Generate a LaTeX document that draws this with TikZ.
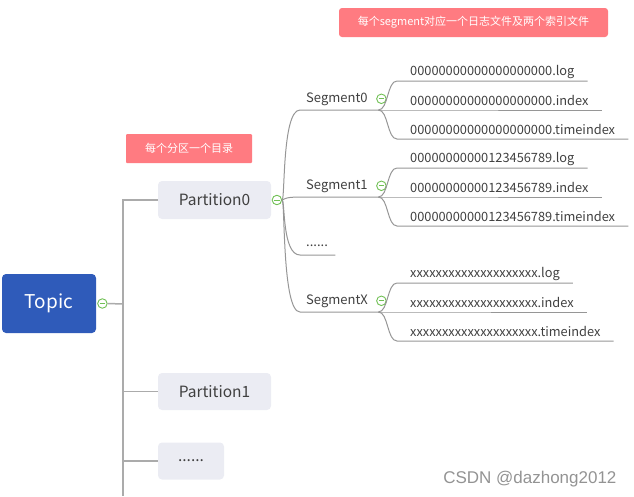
\documentclass[tikz,border=0pt]{standalone}
\usepackage{fontspec}
\setmainfont{Noto Sans CJK SC}
\newfontfamily\markfont{Liberation Sans}
\usepackage{tikz}
\usetikzlibrary{positioning}
\definecolor{topicblue}{RGB}{47,91,186}
\definecolor{partgray}{RGB}{235,236,243}
\definecolor{notered}{RGB}{255,123,129}
\definecolor{linegray}{RGB}{150,150,150}
\definecolor{textgray}{RGB}{64,64,64}
\definecolor{togglegreen}{RGB}{112,192,84}
\tikzstyle{partition} = [rectangle, rounded corners=4pt, fill=partgray, text=textgray, minimum width=113pt, minimum height=38pt, font=\fontsize{15.5}{18}\selectfont]
\tikzstyle{note} = [rectangle, rounded corners=3pt, fill=notered, text=white, minimum height=29pt, font=\fontsize{11}{13}\selectfont]
\tikzstyle{toggle} = [circle, draw=togglegreen, fill=white, line width=0.9pt, minimum size=9.5pt, inner sep=0pt, path picture={\draw[togglegreen, line width=1pt] ([xshift=-2.8pt]path picture bounding box.center) -- ([xshift=2.8pt]path picture bounding box.center);}]

\begin{document}
\begin{tikzpicture}[x=1pt, y=-1pt]
        \tikzstyle{stem} = [draw=linegray!80, line width=1.5pt]
        \tikzstyle{branch} = [draw=linegray, line width=1pt]
        \tikzstyle{segment} = [anchor=south west, inner xsep=6pt, inner ysep=0pt, minimum height=22pt, text width=66pt, text=textgray, font=\fontsize{13}{15}\selectfont]
        \tikzstyle{logfile} = [anchor=south west, inner xsep=13pt, inner ysep=0pt, minimum height=18pt, text=textgray, font=\fontsize{12.8}{15}\selectfont]

        \useasboundingbox (0,0) rectangle (634,496);

        \node[note, minimum width=269pt] (segmentNote) at (473.5,22.5) {每个segment对应一个日志文件及两个索引文件};
        \node[note, minimum width=126pt, rounded corners=1pt] (partitionNote) at (189,148.5) {每个分区一个目录};

        \node[rectangle, rounded corners=4pt, fill=topicblue, text=white, minimum width=94pt, minimum height=59pt, font=\fontsize{19}{23}\selectfont] (topic) at (49,303.5) {Topic};
        \node[toggle, right=1pt of topic] (topicToggle) {};

        \node[partition] (part0) at (214.5,200) {Partition0};
        \node[partition, minimum height=37pt] (part1) at (214.5,391.5) {Partition1};
        \node[partition, minimum width=66pt, minimum height=37pt] (part2) at (191,461) {......};
        \node[toggle, right=0.5pt of part0] (part0Toggle) {};

        \coordinate (trunk) at (123,304);
        \coordinate (trunkEnd) at (123,496);
        \draw[stem] (topicToggle.east) -- (trunk);
        \draw[stem] (part0.west) -| (trunkEnd);
        \draw[stem] (part1.west) -- (part1.west -| trunk);
        \draw[stem] (part2.west) -- (part2.west -| trunk);

        \node[segment] (seg0) at (300,110) {Segment0};
        \node[segment] (seg1) at (300,197) {Segment1};
        \node[segment, text width=23pt, minimum height=18pt] (segDots) at (300,255) {......};
        \node[segment] (segX) at (300,312) {SegmentX};
        \node[toggle] (seg0Toggle) at ([xshift=3pt]seg0.east) {};
        \node[toggle] (seg1Toggle) at ([xshift=3pt]seg1.east) {};
        \node[toggle] (segXToggle) at ([xshift=3pt]segX.east) {};

        \foreach \seg in {seg0, seg1, segDots, segX}
            \draw[branch] (part0Toggle.east) .. controls +(3,0) and +(-18,0) .. (\seg.south west) -- (\seg.south east);

        \node[logfile] (seg0Log) at (397,81) {00000000000000000000.log};
        \node[logfile] (seg0Index) at (397,110) {00000000000000000000.index};
        \node[logfile] (seg0Time) at (397,139) {00000000000000000000.timeindex};
        \node[logfile] (seg1Log) at (397,168) {00000000000123456789.log};
        \node[logfile] (seg1Index) at (397,197) {00000000000123456789.index};
        \node[logfile] (seg1Time) at (397,226) {00000000000123456789.timeindex};
        \node[logfile] (segXLog) at (397,283) {xxxxxxxxxxxxxxxxxxxx.log};
        \node[logfile] (segXIndex) at (397,312) {xxxxxxxxxxxxxxxxxxxx.index};
        \node[logfile] (segXTime) at (397,341) {xxxxxxxxxxxxxxxxxxxx.timeindex};

        \foreach \seg in {seg0, seg1, segX} {
            \draw[branch] (\seg.south east) .. controls +(10,0) and +(-10,0) .. (\seg Log.south west) -- (\seg Log.south east);
            \draw[branch] (\seg.south east) -- (\seg Index.south west) -- (\seg Index.south east);
            \draw[branch] (\seg.south east) .. controls +(10,0) and +(-10,0) .. (\seg Time.south west) -- (\seg Time.south east);
        }

        \node[anchor=east, text=gray!85, font=\markfont\fontsize{17}{20}\selectfont] (watermark) at (620,479) {CSDN @dazhong2012};

    \end{tikzpicture}
\end{document}
